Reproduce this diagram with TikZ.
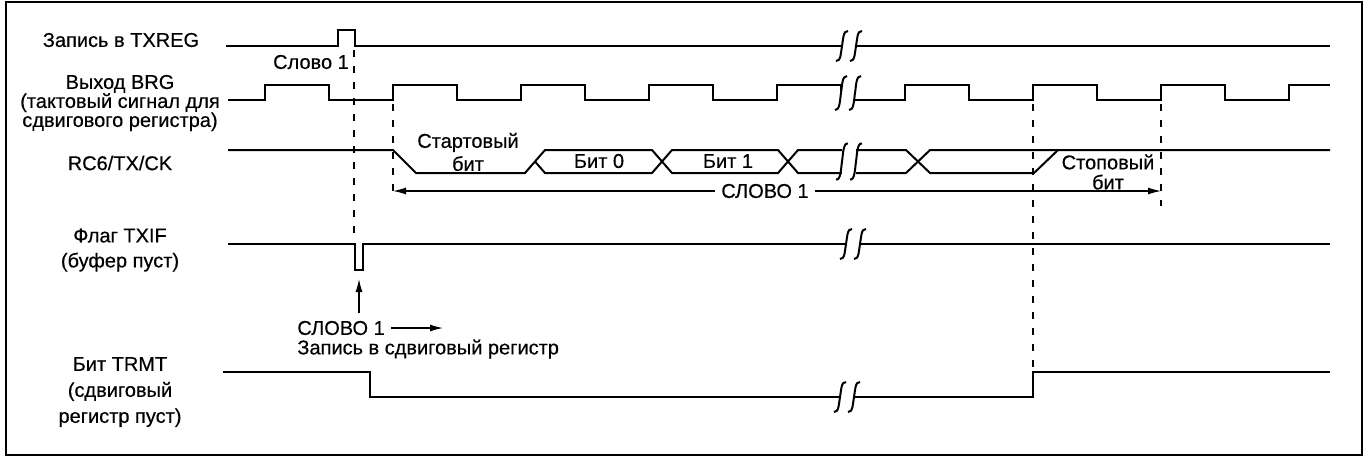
\documentclass[tikz,border=0pt]{standalone}
\usepackage{fontspec}
\setmainfont{Liberation Sans}[FakeBold=0.4]
\usetikzlibrary{arrows.meta}

% break mark: x, y, half height
\newcommand{\sbreak}[3]{%
  \fill[white] (#1,{#2-#3}) rectangle ({#1+14},{#2+#3});
  \foreach \bx in {#1,{#1+14}}
    \draw[sig] ({\bx+6},{#2-#3}) .. controls ({\bx+1},{#2-#3-1}) and ({\bx+1},{#2-#3/3}) .. (\bx,#2)
      .. controls ({\bx-1},{#2+#3/3}) and ({\bx-1},{#2+#3+1}) .. ({\bx-6},{#2+#3});
}

\begin{document}
\begin{tikzpicture}[x=0.5pt,y=-0.5pt,
  sig/.style={line width=1pt},
  dsh/.style={line width=0.6pt,dash pattern=on 3.5pt off 4.5pt},
  arr/.style={line width=0.6pt,-{Latex[length=6.5pt,width=3.5pt]}},
  lbl/.style={inner sep=0pt,align=center,font=\fontsize{10}{12}\selectfont}]
  \useasboundingbox (0,0) rectangle (1368,457);
  \draw[line width=1.3pt] (6,2) rectangle (1362,455);

  % signal names
  \node[lbl] (nreg) at (121,40) {Запись в TXREG};
  \node[lbl,font=\fontsize{10}{9.5}\selectfont] (nbrg) at (120,103) {Выход BRG\\(тактовый сигнал для\\сдвигового регистра)};
  \node[lbl] (ntx) at (120,163) {RC6/TX/CK};
  \node[lbl,font=\fontsize{10}{12.5}\selectfont] (nflag) at (120,250) {Флаг TXIF\\(буфер пуст)};
  \node[lbl,font=\fontsize{10}{13}\selectfont] (ntrmt) at (120,392) {Бит TRMT\\(сдвиговый\\регистр пуст)};

  % TXREG
  \draw[sig] (226,46) -- (338,46) -- (338,30) -- (355,30) -- (355,46) -- (1330,46);
  \sbreak{842}{46}{15}
  % BRG
  \draw[sig] (228,100) foreach \r in {265,393,...,1161} { -- (\r,100) -- (\r,85) -- (\r+64,85) -- (\r+64,100) }
    -- (1289,100) -- (1289,85) -- (1330,85);
  \sbreak{841}{93}{17}
  % RC6/TX/CK
  \draw[sig] (228,150) -- (393,150) -- (416,173) -- (525,173) -- (545,150) -- (652,150) -- (672,173)
    -- (778,173) -- (798,150) -- (842,150);
  \draw[sig] (535,161.5) -- (545,173) -- (652,173) -- (672,150) -- (778,150) -- (798,173) -- (842,173);
  \draw[sig] (856,150) -- (906,150) -- (930,173) -- (1034,173) -- (1058,150);
  \draw[sig] (856,173) -- (906,173) -- (930,150) -- (1330,150);
  \sbreak{842}{161.5}{18}
  % TXIF
  \draw[sig] (228,244) -- (355,244) -- (355,270) -- (363,270) -- (363,244) -- (1330,244);
  \sbreak{846}{244}{15}
  % TRMT
  \draw[sig] (223,372) -- (370,372) -- (370,397) -- (1033,397) -- (1033,372) -- (1330,372);
  \sbreak{840}{397}{15}

  % time marks
  \draw[dsh] (354,50) -- (354,242);
  \draw[dsh] (393,104) -- (393,196);
  \draw[dsh] (1033,104) -- (1033,370);
  \draw[dsh] (1161,104) -- (1161,206);

  % bit names
  \node[lbl] (slovo) at (311,62) {Слово 1};
  \node[lbl,font=\fontsize{10}{11.5}\selectfont] (start) at (468,152) {Стартовый\\бит};
  \node[lbl] (b0) at (599,161) {Бит 0};
  \node[lbl] (b1) at (728,161) {Бит 1};
  \node[lbl,font=\fontsize{10}{10}\selectfont] (stop) at (1108,172) {Стоповый\\бит};

  % word span
  \coordinate (wl) at (393,191);
  \coordinate (wr) at (1161,191);
  \node[lbl,inner sep=3pt] (w1) at (765,191) {СЛОВО 1};
  \draw[arr] (w1.west) -- (wl);
  \draw[arr] (w1.east) -- (wr);

  % load into shift register
  \node[lbl,anchor=west] (w2) at (297,328) {СЛОВО 1};
  \node[lbl,anchor=west] (shreg) at (297,349) {Запись в сдвиговый регистр};
  \coordinate (w2end) at (443,328);
  \coordinate (uptail) at (359,313);
  \coordinate (flagpt) at (359,279);
  \draw[arr] ([xshift=3pt]w2.east) -- (w2end);
  \draw[arr] (uptail) -- (flagpt);
\end{tikzpicture}
\end{document}
